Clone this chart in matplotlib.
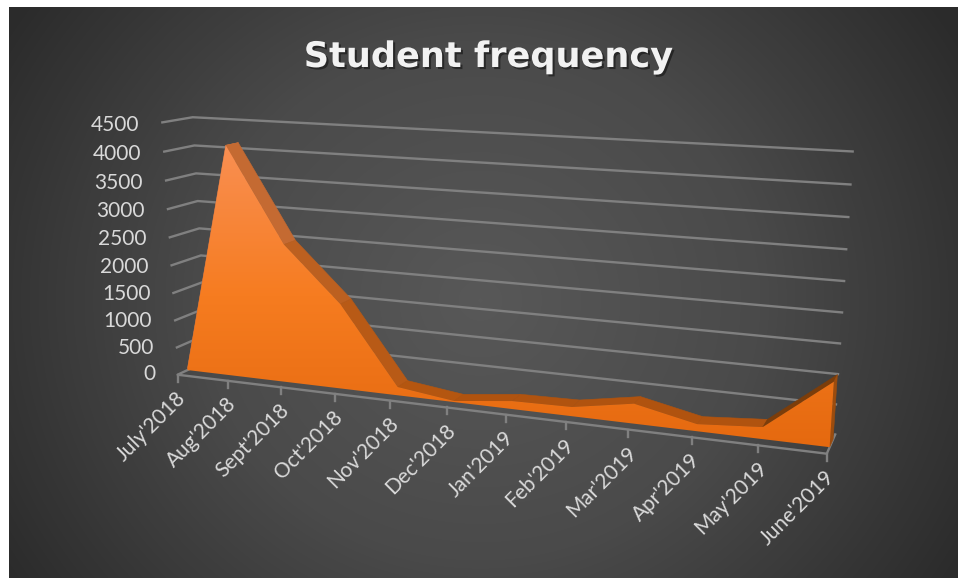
import numpy as np
import matplotlib
matplotlib.use("Agg")
import matplotlib.pyplot as plt
from matplotlib.patches import Polygon
from matplotlib.colors import LinearSegmentedColormap
import matplotlib.patheffects as pe

months = ["July'2018", "Aug'2018", "Sept'2018", "Oct'2018", "Nov'2018", "Dec'2018",
          "Jan'2019", "Feb'2019", "Mar'2019", "Apr'2019", "May'2019", "June'2019"]
students = [30, 4130, 2480, 1520, 150, 20, 140, 160, 340, 120, 200, 1060]
y_ticks = [0, 500, 1000, 1500, 2000, 2500, 3000, 3500, 4000, 4500]
title = "Student frequency"

W, H = 958, 578
# Calibration of the chart box: (category, value, depth) -> picture position
calib = [((0, 0, 0), (178, 372)), ((11, 0, 0), (827, 456)),
         ((0, 0, 1), (207, 364)), ((11, 0, 1), (835, 433)),
         ((0, 4500, 1), (193, 116)), ((11, 4500, 1), (854, 152)),
         ((0, 4500, 0), (161, 124)), ((11, 1000, 1), (839, 373)),
         ((0, 2000, 0), (170, 265))]
rows = []
for (a, b, c), (u, v) in calib:
    X = [a, b / 1000, c, 1]
    rows.append(X + [0, 0, 0, 0] + [-u * t for t in X])
    rows.append([0, 0, 0, 0] + X + [-v * t for t in X])
P = np.linalg.svd(np.array(rows, float))[2][-1].reshape(3, 4)


def proj(i, v, z):
    p = P @ np.array([i, v / 1000, z, 1.0])
    return p[0] / p[2], p[1] / p[2]


fig = plt.figure(figsize=(W / 100, H / 100), dpi=100, facecolor="white")
ax = fig.add_axes([0, 0, 1, 1])
ax.set_xlim(0, W)
ax.set_ylim(H, 0)
ax.axis("off")

# background panel with radial gradient
L, R, T, B = 9, 958, 7, 578
yy, xx = np.mgrid[T:B, L:R]
d = np.sqrt(((xx - 480) / 560) ** 2 + ((yy - 300) / 520) ** 2)
bg = LinearSegmentedColormap.from_list("bg", ["#585858", "#4a4a4a", "#2b2b2b"])
ax.imshow(d, cmap=bg, vmin=0, vmax=1, extent=(L, R, B, T), aspect="auto", zorder=0,
          interpolation="bilinear")

GRID = "#808080"
n = len(months) - 1
for t in y_ticks:
    if t > 0:
        pts = [proj(0, t, 0), proj(0, t, 1), proj(n, t, 1)]
        ax.plot(*zip(*pts), color=GRID, lw=1.7, zorder=1, solid_capstyle="butt")
    x0, y0 = proj(0, t, 0)
    ax.text(x0 - 22, y0 - 0.5 + 3 * t / 4500, str(t), ha="right", va="center", color="#d9d9d9",
            fontsize=15, family="Lato", zorder=5)

# floor lines and category ticks
ax.plot(*zip(proj(0, 0, 1), proj(0, 0, 0), proj(n, 0, 0), proj(n, 0, 1)),
        color=GRID, lw=1.7, zorder=1)
for i, m in enumerate(months):
    x0, y0 = proj(i, 0, 0)
    ax.plot([x0, x0], [y0, y0 + 7], color=GRID, lw=1.7, zorder=1)
    ax.text(x0 + 5, y0 + 20, m, rotation=45, rotation_mode="anchor", ha="right", va="center",
            color="#d9d9d9", fontsize=15, family="Lato", zorder=5)

# area series
Z0, Z1 = 0.33, 0.75
band_cols = ["#c8744a", "#c46a32", "#bc6020", "#b85a16", "#b45610", "#b0530f",
             "#b0530f", "#b0530f", "#b0530f", "#b0530f", "#7c3d0a"]
for i in range(n):
    poly = [proj(i, students[i], Z0), proj(i + 1, students[i + 1], Z0),
            proj(i + 1, students[i + 1], Z1), proj(i, students[i], Z1)]
    ax.add_patch(Polygon(poly, closed=True, fc=band_cols[i], ec=band_cols[i], lw=0.4, zorder=2))
ax.add_patch(Polygon([proj(n, 0, Z0), proj(n, students[n], Z0), proj(n, students[n], Z1), proj(n, 0, Z1)],
                     closed=True, fc="#9c4c0e", ec="#9c4c0e", lw=0.4, zorder=2))

front = [proj(0, 0, Z0)] + [proj(i, s, Z0) for i, s in enumerate(students)] + [proj(n, 0, Z0)]
clip = Polygon(front, closed=True, fc="none", ec="none", transform=ax.transData)
ax.add_patch(clip)
ymin = min(p[1] for p in front)
ymax = max(p[1] for p in front)
xmin = min(p[0] for p in front)
xmax = max(p[0] for p in front)
orange = LinearSegmentedColormap.from_list("o", ["#f98f52", "#f67c20", "#e5690f"])
im = ax.imshow(np.linspace(0, 1, 256).reshape(-1, 1), cmap=orange, aspect="auto",
               extent=(xmin, xmax, ymax, ymin), zorder=3)
im.set_clip_path(clip)
ax.set_xlim(0, W)
ax.set_ylim(H, 0)

ax.text(488.5, 57, title, ha="center", va="center", color="#f2f2f2", fontsize=25.3,
        fontweight="bold", family="DejaVu Sans", zorder=6,
        path_effects=[pe.withSimplePatchShadow(offset=(1.5, -1.5), shadow_rgbFace="black", alpha=0.45)])

fig.savefig("out.png", dpi=100, facecolor="white")
